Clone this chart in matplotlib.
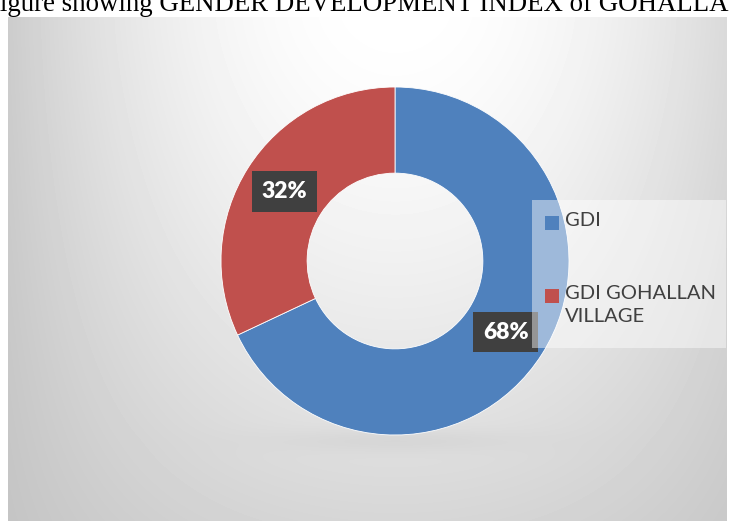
import numpy as np
import matplotlib.pyplot as plt
from matplotlib.patches import Rectangle

labels = ['GDI', 'GDI GOHALLAN\nVILLAGE']
values = [68, 32]
colors = ['#4F81BD', '#C0504D']
title = 'Figure showing GENDER DEVELOPMENT INDEX of GOHALLAN VILLAGE'

W, H = 729, 527
fig = plt.figure(figsize=(W / 100, H / 100), dpi=100)

# title, cut off at the edges like the scanned page
fig.text(-15 / W, 1 - 11 / H, title, family='Liberation Serif', fontsize=19.4,
         va='baseline', ha='left', color='black')

# chart area with grey gradient, white at the top centre
x0, x1, y0, y1 = 8, 727, 17, 521
bg = fig.add_axes([x0 / W, 1 - y1 / H, (x1 - x0) / W, (y1 - y0) / H])
yy, xx = np.mgrid[y0:y1, x0:x1]
u = (np.abs(xx - 395) / 387) ** 2
v = ((yy - y0) / (y1 - y0)) ** 1.4
shade = 1.0 - 0.20 * u - 0.16 * v + 0.13 * u * v
# soft shadow under the ring
shade -= 0.035 * np.exp(-((xx - 395) / 120) ** 2 - ((yy - 440) / 12) ** 2)
bg.imshow(np.clip(shade, 0, 1), cmap='gray', vmin=0, vmax=1, aspect='auto')
bg.axis('off')

# donut
cx, cy, r = 395, 261, 174
ax = fig.add_axes([(cx - r) / W, 1 - (cy + r) / H, 2 * r / W, 2 * r / H])
wedges, _ = ax.pie(values, colors=colors, startangle=90, counterclock=False,
                   radius=1, wedgeprops=dict(width=0.495, edgecolor='white', linewidth=0.6))
ax.set_xlim(-1, 1)
ax.set_ylim(-1, 1)
ax.axis('off')

start = 90
for v_, w in zip(values, wedges):
    mid = np.deg2rad(start - v_ * 3.6 / 2)
    start -= v_ * 3.6
    ax.text(0.755 * np.cos(mid), 0.755 * np.sin(mid) - 0.005, f'{v_}%',
            ha='center', va='center', color='white', fontsize=16.5,
            fontweight='heavy', family='Lato',
            bbox=dict(boxstyle='square,pad=0.42', facecolor='#404040', edgecolor='none'))

# legend drawn by hand to get the spacing of the original
def px(x, y):
    return x / W, 1 - y / H

lx, ly = px(532, 348)
fig.patches.append(Rectangle((lx, ly), (726 - 532) / W, (348 - 200) / H,
                             transform=fig.transFigure, facecolor='white',
                             alpha=0.45, edgecolor='none', zorder=5))
for (sy, color, label) in zip([223, 296], colors, labels):
    sx, syf = px(545, sy + 7)
    fig.patches.append(Rectangle((sx, syf), 14 / W, 14 / H, transform=fig.transFigure,
                                 facecolor=color, edgecolor='none', zorder=6))
    fig.text(565 / W, 1 - (sy - 11) / H, label, family='Lato', fontsize=14.5,
             color='#404040', va='top', ha='left', linespacing=1.45, zorder=7)

fig.savefig('out.png', dpi=100)
